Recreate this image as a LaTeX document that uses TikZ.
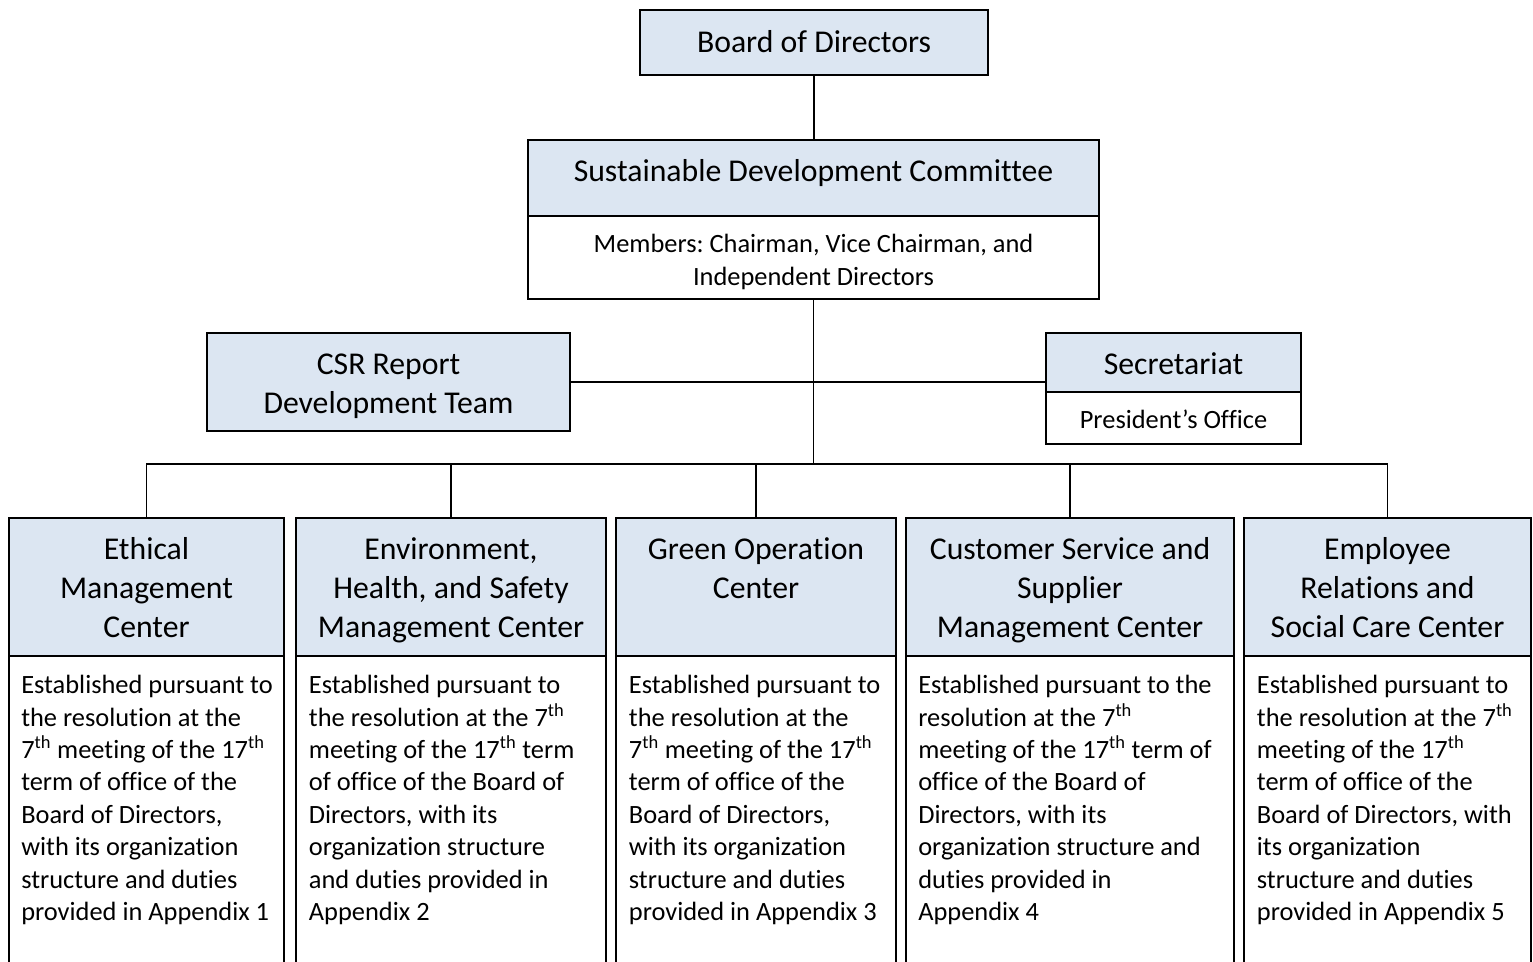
\documentclass[tikz,border=0pt]{standalone}
\usepackage{fontspec}
\setmainfont{Carlito}[Ligatures=NoCommon]
\usepackage{tikz}
\usetikzlibrary{positioning}
\frenchspacing

\definecolor{headblue}{RGB}{220,230,242}
\newcommand{\headsize}{\fontsize{23.8}{29.25}\selectfont}
\newcommand{\bodysize}{\fontsize{19.8}{24.3}\selectfont}

\begin{document}
\begin{tikzpicture}[x=0.75pt,y=-0.75pt,
  box/.style={draw,line width=1.4pt,inner sep=0pt,outer sep=0pt,align=flush center},
  head/.style={box,fill=headblue,font=\headsize},
  body/.style={box,fill=white,font=\bodysize},
  % text height = first baseline below the top edge, depth = the rest of the box
  tb/.style 2 args={text height=#1,text depth=#2},
  center/.style={head,anchor=north,text width=#1,tb={31pt}{72.5pt}},
  note/.style={anchor=base west,inner sep=0pt,text width=235pt,align=flush left,font=\bodysize},
  link/.style={line width=1.1pt}]
\useasboundingbox (0,0) rectangle (1533,961);
\fill[white] (0,0) rectangle (1533,961);
\clip (0,0) rectangle (1533,961);

% Board and committee
\node[head,minimum width=261pt,anchor=north,tb={31.6pt}{17.15pt}] (board) at (814,10) {Board of Directors};
\node[head,anchor=north,minimum width=428.25pt,tb={30.75pt}{26.25pt}] (sdc) at (813.5,140) {Sustainable Development Committee};
\node[body,text width=428.25pt,tb={27.6pt}{34.65pt},below=0pt of sdc] (sdcb) {Members: Chairman, Vice Chairman, and\\Independent Directors};

% Side units
\node[head,anchor=north,text width=272.25pt,tb={30.75pt}{42.75pt}] (csr) at (388.5,333) {CSR Report\\Development Team};
\node[head,anchor=north,minimum width=191.25pt,tb={30.75pt}{13.5pt}] (sech) at (1173.5,333) {Secretariat};
\node[body,minimum width=191.25pt,tb={27.4pt}{11.6pt},below=0pt of sech] (secb) {President’s Office};

% Centers
\node[center=206.25pt] (e1h) at (146.5,518) {Ethical\\Management\\Center};
\node[body,minimum width=206.25pt,minimum height=250pt,below=0pt of e1h] (e1b) {};
\node[note] (e1t) at ([shift={(9pt,-28.3pt)}]e1b.north west) {Established pursuant to\\the resolution at the\\7\textsuperscript{th} meeting of the 17\textsuperscript{th}\\term of office of the\\Board of Directors,\\with its organization\\structure and duties\\provided in Appendix 1};

\node[center=232.5pt] (e2h) at (451,518) {Environment,\\Health, and Safety\\Management Center};
\node[body,minimum width=232.5pt,minimum height=250pt,below=0pt of e2h] (e2b) {};
\node[note] (e2t) at ([shift={(9.5pt,-28.3pt)}]e2b.north west) {Established pursuant to\\the resolution at the 7\textsuperscript{th}\\meeting of the 17\textsuperscript{th} term\\of office of the Board of\\Directors, with its\\organization structure\\and duties provided in\\Appendix 2};

\node[center=210pt] (e3h) at (756,518) {Green Operation\\Center};
\node[body,minimum width=210pt,minimum height=250pt,below=0pt of e3h] (e3b) {};
\node[note] (e3t) at ([shift={(9.5pt,-28.3pt)}]e3b.north west) {Established pursuant to\\the resolution at the\\7\textsuperscript{th} meeting of the 17\textsuperscript{th}\\term of office of the\\Board of Directors,\\with its organization\\structure and duties\\provided in Appendix 3};

\node[center=246pt] (e4h) at (1070,518) {Customer Service and\\Supplier\\Management Center};
\node[body,minimum width=246pt,minimum height=250pt,below=0pt of e4h] (e4b) {};
\node[note] (e4t) at ([shift={(9pt,-28.3pt)}]e4b.north west) {Established pursuant to the\\resolution at the 7\textsuperscript{th}\\meeting of the 17\textsuperscript{th} term of\\office of the Board of\\Directors, with its\\organization structure and\\duties provided in\\Appendix 4};

\node[center=215.25pt] (e5h) at (1387.5,518) {Employee\\Relations and\\Social Care Center};
\node[body,minimum width=215.25pt,minimum height=250pt,below=0pt of e5h] (e5b) {};
\node[note] (e5t) at ([shift={(9.5pt,-28.3pt)}]e5b.north west) {Established pursuant to\\the resolution at the 7\textsuperscript{th}\\meeting of the 17\textsuperscript{th}\\term of office of the\\Board of Directors, with\\its organization\\structure and duties\\provided in Appendix 5};

% Connectors
\coordinate (hub) at (813.5,464);
\draw[link] (board.south) -- (board.south |- sdc.north);
\draw[link,line width=1.4pt] (sdcb) -- (hub);
\draw[link] (csr.east) -- (csr.east -| sech.west);
\draw[link] (e1h) |- (hub) -| (e5h);
\foreach \n in {e2h,e3h,e4h}
  \draw[link] (\n) -- (\n |- hub);
\end{tikzpicture}
\end{document}
